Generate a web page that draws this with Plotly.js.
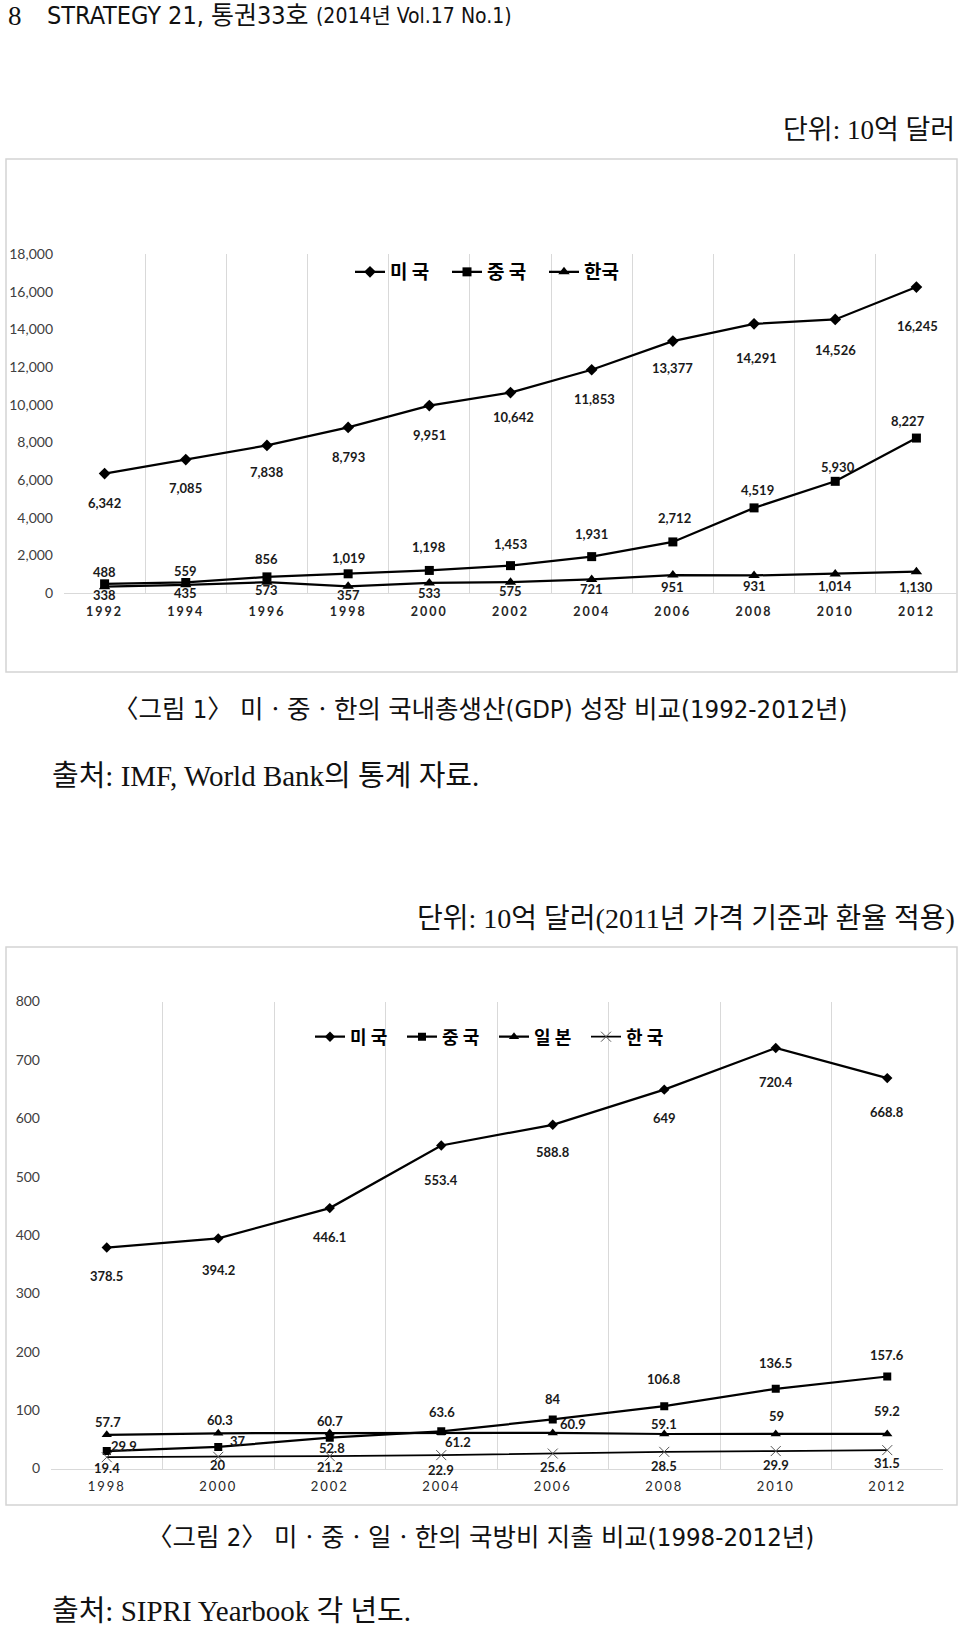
<!DOCTYPE html>
<html>
<head>
<meta charset="utf-8">
<script src="https://cdn.plot.ly/plotly-3.0.1.min.js"></script>
<style>
html,body{margin:0;padding:0;background:#fff;}
#chart{width:960px;height:1627px;}
.xtick text, .x2tick text {letter-spacing:2px;}
</style>
</head>
<body>
<div id="chart"></div>
<script>
// ---------- Figure 1 data: GDP (10억 달러) ----------
const gdpYears = ['1992','1994','1996','1998','2000','2002','2004','2006','2008','2010','2012'];
const gdpUS = [6342, 7085, 7838, 8793, 9951, 10642, 11853, 13377, 14291, 14526, 16245];
const gdpCN = [488, 559, 856, 1019, 1198, 1453, 1931, 2712, 4519, 5930, 8227];
const gdpKR = [338, 435, 573, 357, 533, 575, 721, 951, 931, 1014, 1130];
const gdpTicks = [0, 2000, 4000, 6000, 8000, 10000, 12000, 14000, 16000, 18000];
const gdpNames = ['미 국', '중 국', '한국'];

// ---------- Figure 2 data: defence spending ----------
const milYears = ['1998','2000','2002','2004','2006','2008','2010','2012'];
const milUS = [378.5, 394.2, 446.1, 553.4, 588.8, 649, 720.4, 668.8];
const milCN = [29.9, 37, 52.8, 63.6, 84, 106.8, 136.5, 157.6];
const milJP = [57.7, 60.3, 60.7, 61.2, 60.9, 59.1, 59, 59.2];
const milKR = [19.4, 20, 21.2, 22.9, 25.6, 28.5, 29.9, 31.5];
const milTicks = [0, 100, 200, 300, 400, 500, 600, 700, 800];
const milNames = ['미 국', '중 국', '일 본', '한 국'];

// ---------- label placement (pixel offsets, style only) ----------
const gdpUSShift = [[0,-29],[0,-28],[0,-27],[0,-30],[0,-29],[3,-24],[3,-29],[0,-27],[2,-34],[0,-31],[1,-39]];
const gdpCNShift = [[0,12],[0,11],[0,18],[0,16],[0,23],[0,22],[0,23],[2,24],[3,18],[3,14],[-8,17]];
const gdpKRShift = [[0,-8],[0,-8],[0,-8],[0,-9],[0,-10],[0,-9],[0,-10],[0,-12],[0,-11],[0,-12],[0,-15]];
const milUSShift = [[0,-28],[0,-32],[0,-29],[0,-35],[0,-27],[0,-28],[0,-34],[0,-34]];
const milCNShift = [[17,5],[20,6],[2,-10],[1,19],[0,20],[0,27],[0,26],[0,22]];
const milJPShift = [[1,13],[2,13],[0,12],[17,-9],[20,9],[0,10],[1,18],[0,23]];
const milKRShift = [[0,-11],[0,-8],[0,-11],[0,-15],[0,-13],[0,-14],[0,-14],[0,-13]];

const W = 960, H = 1627;
const fx = p => p / W;
const fy = p => 1 - p / H;

const labelFont = {family: 'Lato, "Open Sans", sans-serif', size: 13, color: '#1a1a1a', weight: 'bold'};

// category axes: annotation x is the category index
function dataLabels(ys, fmt, shifts, xref, yref) {
  return ys.map((v, i) => ({
    x: i, y: v, xref: xref, yref: yref, text: fmt(v), showarrow: false,
    xanchor: 'center', yanchor: 'middle', xshift: shifts[i][0], yshift: shifts[i][1],
    font: labelFont
  }));
}
const fmtComma = v => v.toLocaleString('en-US');
const fmtPlain = v => String(v);

const blackLine = {color: '#000', width: 2.25};

const traces = [
  {x: gdpYears, y: gdpUS, name: gdpNames[0], mode: 'lines+markers', line: blackLine,
   marker: {symbol: 'diamond', size: 9, color: '#000'}, xaxis: 'x', yaxis: 'y', legend: 'legend'},
  {x: gdpYears, y: gdpCN, name: gdpNames[1], mode: 'lines+markers', line: blackLine,
   marker: {symbol: 'square', size: 9, color: '#000'}, xaxis: 'x', yaxis: 'y', legend: 'legend'},
  {x: gdpYears, y: gdpKR, name: gdpNames[2], mode: 'lines+markers', line: blackLine,
   marker: {symbol: 'triangle-up', size: 10, color: '#000'}, xaxis: 'x', yaxis: 'y', legend: 'legend'},

  {x: milYears, y: milUS, name: milNames[0], mode: 'lines+markers', line: blackLine,
   marker: {symbol: 'diamond', size: 8, color: '#000'}, xaxis: 'x2', yaxis: 'y2', legend: 'legend2'},
  {x: milYears, y: milCN, name: milNames[1], mode: 'lines+markers', line: blackLine,
   marker: {symbol: 'square', size: 8, color: '#000'}, xaxis: 'x2', yaxis: 'y2', legend: 'legend2'},
  {x: milYears, y: milJP, name: milNames[2], mode: 'lines+markers', line: blackLine,
   marker: {symbol: 'triangle-up', size: 9, color: '#000'}, xaxis: 'x2', yaxis: 'y2', legend: 'legend2'},
  {x: milYears, y: milKR, name: milNames[3], mode: 'lines+markers', line: {color: '#000', width: 1.75},
   marker: {symbol: 'x-thin-open', size: 10, color: '#555', line: {color: '#555', width: 1}}, xaxis: 'x2', yaxis: 'y2', legend: 'legend2'}
];

const serifKR = '"Liberation Serif", "Noto Sans CJK KR", serif';
const condKR = '"DejaVu Sans Condensed", "Liberation Sans Narrow", "Noto Sans CJK KR", sans-serif';
const pageText = [
  {text: '8', x: fx(6), y: fy(16), xanchor: 'left', font: {family: serifKR, size: 27, color: '#111'}},
  {text: 'STRATEGY 21, 통권33호', x: fx(45), y: fy(16), xanchor: 'left', font: {family: condKR, size: 25, color: '#111'}},
  {text: '(2014년 Vol.17 No.1)', x: fx(514), y: fy(16), xanchor: 'right', font: {family: condKR, size: 21, color: '#111'}},
  {text: '단위: 10억 달러', x: fx(957), y: fy(130), xanchor: 'right', font: {family: serifKR, size: 27, color: '#111'}},
  {text: '〈그림 1〉 미ㆍ중ㆍ한의 국내총생산(GDP) 성장 비교(1992-2012년)', x: fx(480), y: fy(709), xanchor: 'center', font: {family: condKR, size: 25.5, color: '#111'}},
  {text: '출처: IMF, World Bank의 통계 자료.', x: fx(50), y: fy(776), xanchor: 'left', font: {family: serifKR, size: 29, color: '#111'}},
  {text: '단위: 10억 달러(2011년 가격 기준과 환율 적용)', x: fx(957), y: fy(918), xanchor: 'right', font: {family: serifKR, size: 28, color: '#111'}},
  {text: '〈그림 2〉 미ㆍ중ㆍ일ㆍ한의 국방비 지출 비교(1998-2012년)', x: fx(480), y: fy(1537), xanchor: 'center', font: {family: condKR, size: 25.5, color: '#111'}},
  {text: '출처: SIPRI Yearbook 각 년도.', x: fx(50), y: fy(1611), xanchor: 'left', font: {family: serifKR, size: 29, color: '#111'}}
].map(a => Object.assign({xref: 'paper', yref: 'paper', yanchor: 'middle', showarrow: false}, a));

const annotations = [].concat(
  pageText,
  dataLabels(gdpUS, fmtComma, gdpUSShift, 'x', 'y'),
  dataLabels(gdpCN, fmtComma, gdpCNShift, 'x', 'y'),
  dataLabels(gdpKR, fmtComma, gdpKRShift, 'x', 'y'),
  dataLabels(milUS, fmtPlain, milUSShift, 'x2', 'y2'),
  dataLabels(milCN, fmtPlain, milCNShift, 'x2', 'y2'),
  dataLabels(milJP, fmtPlain, milJPShift, 'x2', 'y2'),
  dataLabels(milKR, fmtPlain, milKRShift, 'x2', 'y2')
);

const axisTickFont = {family: 'Lato, "Open Sans", sans-serif', size: 14, color: '#404040'};

const layout = {
  width: W, height: H,
  margin: {l: 0, r: 0, t: 0, b: 0},
  paper_bgcolor: '#fff', plot_bgcolor: 'rgba(0,0,0,0)',
  hovermode: false,
  showlegend: true,
  xaxis: {
    domain: [fx(64), fx(957)], anchor: 'y', type: 'category', range: [-0.5, gdpYears.length - 0.5],
    tickson: 'boundaries', showgrid: true, gridcolor: '#d9d9d9', gridwidth: 1,
    showline: true, linecolor: '#d9d9d9', linewidth: 1, ticks: '', zeroline: false,
    tickfont: {family: 'Lato, "Open Sans", sans-serif', size: 12.5, color: '#262626', weight: 'bold'},
    ticklabelstandoff: 7, fixedrange: true
  },
  yaxis: {
    domain: [fy(593), fy(254)], anchor: 'x', range: [0, 18000], tickvals: gdpTicks, tickformat: ',',
    showgrid: false, zeroline: false, showline: false, ticks: '',
    tickfont: axisTickFont, ticklabelstandoff: 10, fixedrange: true
  },
  xaxis2: {
    domain: [fx(51), fx(943)], anchor: 'y2', type: 'category', range: [-0.5, milYears.length - 0.5],
    tickson: 'boundaries', showgrid: true, gridcolor: '#d9d9d9', gridwidth: 1,
    showline: true, linecolor: '#d9d9d9', linewidth: 1, ticks: '', zeroline: false,
    tickfont: {family: 'Lato, "Open Sans", sans-serif', size: 13, color: '#262626'},
    ticklabelstandoff: 6, fixedrange: true
  },
  yaxis2: {
    domain: [fy(1468.5), fy(1001.5)], anchor: 'x2', range: [0, 800], tickvals: milTicks,
    showgrid: false, zeroline: false, showline: false, ticks: '',
    tickfont: axisTickFont, ticklabelstandoff: 10, fixedrange: true
  },
  legend: {
    x: fx(350), y: fy(272), xanchor: 'left', yanchor: 'middle', orientation: 'h',
    font: {family: '"Noto Sans CJK KR", sans-serif', size: 19, color: '#000', weight: 'bold'},
    bgcolor: 'rgba(0,0,0,0)', itemwidth: 30, traceorder: 'normal',
    entrywidth: 52, entrywidthmode: 'pixels'
  },
  legend2: {
    x: fx(310), y: fy(1037), xanchor: 'left', yanchor: 'middle', orientation: 'h',
    font: {family: '"Noto Sans CJK KR", sans-serif', size: 18, color: '#000', weight: 'bold'},
    bgcolor: 'rgba(0,0,0,0)', itemwidth: 30, traceorder: 'normal',
    entrywidth: 47, entrywidthmode: 'pixels'
  },
  shapes: [
    {type: 'rect', xref: 'paper', yref: 'paper', x0: fx(6), x1: fx(957), y0: fy(672), y1: fy(159),
     line: {color: '#d4d4d4', width: 1.5}, fillcolor: 'rgba(0,0,0,0)', layer: 'below'},
    {type: 'rect', xref: 'paper', yref: 'paper', x0: fx(6), x1: fx(957), y0: fy(1505), y1: fy(947),
     line: {color: '#d4d4d4', width: 1.5}, fillcolor: 'rgba(0,0,0,0)', layer: 'below'}
  ],
  annotations: annotations
};

Plotly.newPlot('chart', traces, layout, {staticPlot: true, displayModeBar: false});
</script>
</body>
</html>
